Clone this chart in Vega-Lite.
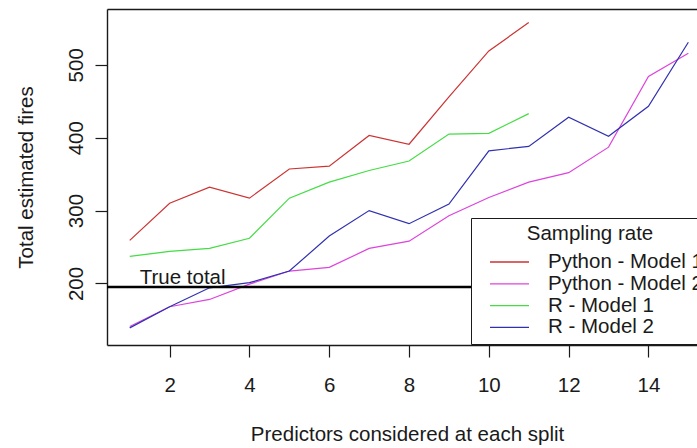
{
  "$schema": "https://vega.github.io/schema/vega-lite/v6.json",
  "autosize": {"type": "none"},
  "width": 590,
  "height": 336,
  "padding": {"left": 107, "top": 9, "right": 0, "bottom": 103},
  "background": "white",
  "config": {
    "view": {"stroke": null},
    "font": "Liberation Sans",
    "axis": {
      "domainColor": "#1a1a1a",
      "domainWidth": 1.4,
      "tickColor": "#1a1a1a",
      "tickWidth": 1.2,
      "tickSize": 12,
      "labelFont": "Liberation Sans",
      "labelFontSize": 20.5,
      "labelColor": "#1a1a1a",
      "titleFont": "Liberation Sans",
      "titleFontSize": 20.5,
      "titleFontWeight": "normal",
      "titleColor": "#1a1a1a",
      "grid": false
    },
    "legend": {
      "orient": "none",
      "legendX": 364,
      "legendY": 209,
      "strokeColor": "#1a1a1a",
      "fillColor": "white",
      "padding": 6,
      "symbolType": "stroke",
      "symbolSize": 1521,
      "symbolStrokeWidth": 1.3,
      "symbolOffset": 12,
      "labelOffset": 18,
      "clipHeight": 21,
      "labelFont": "Liberation Sans",
      "labelFontSize": 20.5,
      "labelColor": "#1a1a1a",
      "labelLimit": 400,
      "titleFont": "Liberation Sans",
      "titleFontSize": 20.5,
      "titleFontWeight": "normal",
      "titleColor": "#1a1a1a",
      "titleAnchor": "middle",
      "titlePadding": 7,
      "rowPadding": 0.8
    }
  },
  "datasets": {
    "series": [
      {"series": "Python - Model 1", "x": 1, "y": 259},
      {"series": "Python - Model 1", "x": 2, "y": 310},
      {"series": "Python - Model 1", "x": 3, "y": 332},
      {"series": "Python - Model 1", "x": 4, "y": 317},
      {"series": "Python - Model 1", "x": 5, "y": 357},
      {"series": "Python - Model 1", "x": 6, "y": 361},
      {"series": "Python - Model 1", "x": 7, "y": 403},
      {"series": "Python - Model 1", "x": 8, "y": 391},
      {"series": "Python - Model 1", "x": 9, "y": 456},
      {"series": "Python - Model 1", "x": 10, "y": 519},
      {"series": "Python - Model 1", "x": 11, "y": 558},
      {"series": "Python - Model 2", "x": 1, "y": 141},
      {"series": "Python - Model 2", "x": 2, "y": 168},
      {"series": "Python - Model 2", "x": 3, "y": 178},
      {"series": "Python - Model 2", "x": 4, "y": 199},
      {"series": "Python - Model 2", "x": 5, "y": 217},
      {"series": "Python - Model 2", "x": 6, "y": 222},
      {"series": "Python - Model 2", "x": 7, "y": 248},
      {"series": "Python - Model 2", "x": 8, "y": 258},
      {"series": "Python - Model 2", "x": 9, "y": 293},
      {"series": "Python - Model 2", "x": 10, "y": 318},
      {"series": "Python - Model 2", "x": 11, "y": 339},
      {"series": "Python - Model 2", "x": 12, "y": 352},
      {"series": "Python - Model 2", "x": 13, "y": 387},
      {"series": "Python - Model 2", "x": 14, "y": 484},
      {"series": "Python - Model 2", "x": 15, "y": 516},
      {"series": "R - Model 1", "x": 1, "y": 237},
      {"series": "R - Model 1", "x": 2, "y": 244},
      {"series": "R - Model 1", "x": 3, "y": 248},
      {"series": "R - Model 1", "x": 4, "y": 262},
      {"series": "R - Model 1", "x": 5, "y": 317},
      {"series": "R - Model 1", "x": 6, "y": 339},
      {"series": "R - Model 1", "x": 7, "y": 355},
      {"series": "R - Model 1", "x": 8, "y": 368},
      {"series": "R - Model 1", "x": 9, "y": 405},
      {"series": "R - Model 1", "x": 10, "y": 406},
      {"series": "R - Model 1", "x": 11, "y": 433},
      {"series": "R - Model 2", "x": 1, "y": 139},
      {"series": "R - Model 2", "x": 2, "y": 168},
      {"series": "R - Model 2", "x": 3, "y": 194},
      {"series": "R - Model 2", "x": 4, "y": 201},
      {"series": "R - Model 2", "x": 5, "y": 217},
      {"series": "R - Model 2", "x": 6, "y": 265},
      {"series": "R - Model 2", "x": 7, "y": 300},
      {"series": "R - Model 2", "x": 8, "y": 282},
      {"series": "R - Model 2", "x": 9, "y": 309},
      {"series": "R - Model 2", "x": 10, "y": 382},
      {"series": "R - Model 2", "x": 11, "y": 388},
      {"series": "R - Model 2", "x": 12, "y": 428},
      {"series": "R - Model 2", "x": 13, "y": 402},
      {"series": "R - Model 2", "x": 14, "y": 443},
      {"series": "R - Model 2", "x": 15, "y": 531}
    ],
    "truth": [{"x": 1.25, "y": 195, "label": "True total"}]
  },
  "layer": [
    {
      "data": {"name": "series"},
      "mark": {"type": "line", "strokeWidth": 1.2},
      "encoding": {
        "x": {
          "field": "x", "type": "quantitative",
          "scale": {"domain": [0.43, 15.217], "nice": false, "zero": false},
          "axis": {"orient": "bottom", "values": [2, 4, 6, 8, 10, 12, 14], "title": "Predictors considered at each split", "labelPadding": 18, "titlePadding": 29, "titleX": 300}
        },
        "y": {
          "field": "y", "type": "quantitative",
          "scale": {"domain": [115.5, 576.6], "nice": false, "zero": false},
          "axis": {"values": [200, 300, 400, 500], "title": "Total estimated fires", "labelAngle": -90, "labelAlign": "center", "labelBaseline": "alphabetic", "labelPadding": 13, "titlePadding": 30}
        },
        "color": {
          "field": "series", "type": "nominal",
          "scale": {"domain": ["Python - Model 1", "Python - Model 2", "R - Model 1", "R - Model 2"], "range": ["#cc3333", "#dd44dd", "#44dd44", "#3030b0"]},
          "legend": {"title": "Sampling rate"}
        }
      }
    },
    {
      "data": {"name": "truth"},
      "mark": {"type": "rule", "color": "black", "strokeWidth": 2.6},
      "encoding": {
        "y": {"field": "y", "type": "quantitative"}
      }
    },
    {
      "data": {"name": "truth"},
      "mark": {"type": "text", "align": "left", "baseline": "alphabetic", "dy": -3, "fontSize": 20.5, "font": "Liberation Sans", "color": "#1a1a1a"},
      "encoding": {
        "x": {"field": "x", "type": "quantitative", "axis": {"orient": "top", "labels": false, "ticks": false, "title": null, "domainColor": "#1a1a1a", "domainWidth": 1.4}},
        "y": {"field": "y", "type": "quantitative"},
        "text": {"field": "label"}
      }
    }
  ],
  "resolve": {"axis": {"x": "independent"}}
}
